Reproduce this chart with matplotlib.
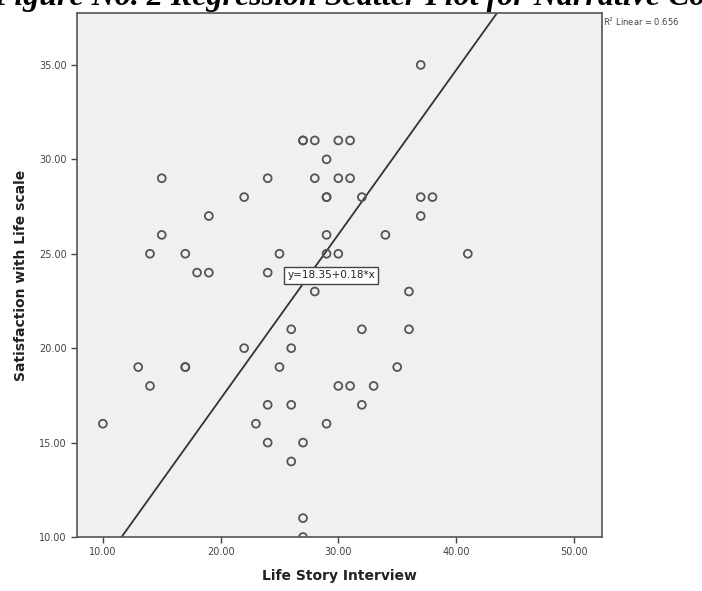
import matplotlib
matplotlib.use("Agg")
import matplotlib.pyplot as plt
import numpy as np

# Life Story Interview (x) vs Satisfaction with Life scale (y)
life_story = [27, 28, 30, 31, 29, 15, 24, 28, 30, 31, 22, 29, 32, 19, 15, 29,
              14, 17, 25, 29, 30, 18, 19, 24, 28, 37, 37, 38, 37, 34, 41, 36,
              26, 32, 22, 26, 13, 17, 25, 14, 30, 31, 33, 10, 24, 26, 32, 23,
              29, 24, 27, 26, 27, 27, 36, 35, 29, 27, 17]
satisfaction = [31, 31, 31, 31, 30, 29, 29, 29, 29, 29, 28, 28, 28, 27, 26, 26,
                25, 25, 25, 25, 25, 24, 24, 24, 23, 35, 28, 28, 27, 26, 25, 23,
                21, 21, 20, 20, 19, 19, 19, 18, 18, 18, 18, 16, 17, 17, 17, 16,
                16, 15, 15, 14, 11, 10, 21, 19, 28, 31, 19]

# fitted line as drawn
line_slope = 0.87
line_intercept = -0.08
fit_label = "y=18.35+0.18*x"
r2_label = "R$^2$ Linear = 0.656"
title = "Figure No. 2 Regression Scatter Plot for Narrative Co"

x_ticks = [10, 20, 30, 40, 50]
y_ticks = [10, 15, 20, 25, 30, 35]

fig = plt.figure(figsize=(7.02, 5.91), dpi=100)
ax = fig.add_axes([77 / 702, 1 - 537 / 591, 525 / 702, 524 / 591])
ax.set_facecolor("#f0f0f0")

ax.scatter(life_story, satisfaction, s=32, facecolors="none",
           edgecolors="#555555", linewidths=1.3, zorder=3)

xs = np.array([0, 60])
ax.plot(xs, line_intercept + line_slope * xs, color="#333333", lw=1.3, zorder=2)

ax.set_xlim(7.8, 52.4)
ax.set_ylim(10, 37.75)
ax.set_xticks(x_ticks)
ax.set_yticks(y_ticks)
ax.set_xticklabels([f"{v:.2f}" for v in x_ticks])
ax.set_yticklabels([f"{v:.2f}" for v in y_ticks])
ax.tick_params(labelsize=7, colors="#444444", length=4, width=1)

for s in ax.spines.values():
    s.set_color("#555555")
    s.set_linewidth(1.2)

ax.set_xlabel("Life Story Interview", fontsize=10, fontweight="bold", labelpad=8, color="#222222")
ax.set_ylabel("Satisfaction with Life scale", fontsize=10, fontweight="bold", labelpad=8, color="#222222")

ax.text(29.4, 23.85, fit_label, fontsize=7.5, ha="center", va="center", color="#222222",
        bbox=dict(boxstyle="square,pad=0.3", fc="white", ec="#444444", lw=1.0), zorder=4)

fig.text(603 / 702, 1 - 22 / 591, r2_label, fontsize=6, color="#444444", va="center")

fig.text(-0.01, 1 - 5 / 591, title,
         fontsize=23, fontweight="bold", fontstyle="italic", family="Liberation Serif",
         va="baseline", ha="left")

fig.savefig("out.png", dpi=100)
